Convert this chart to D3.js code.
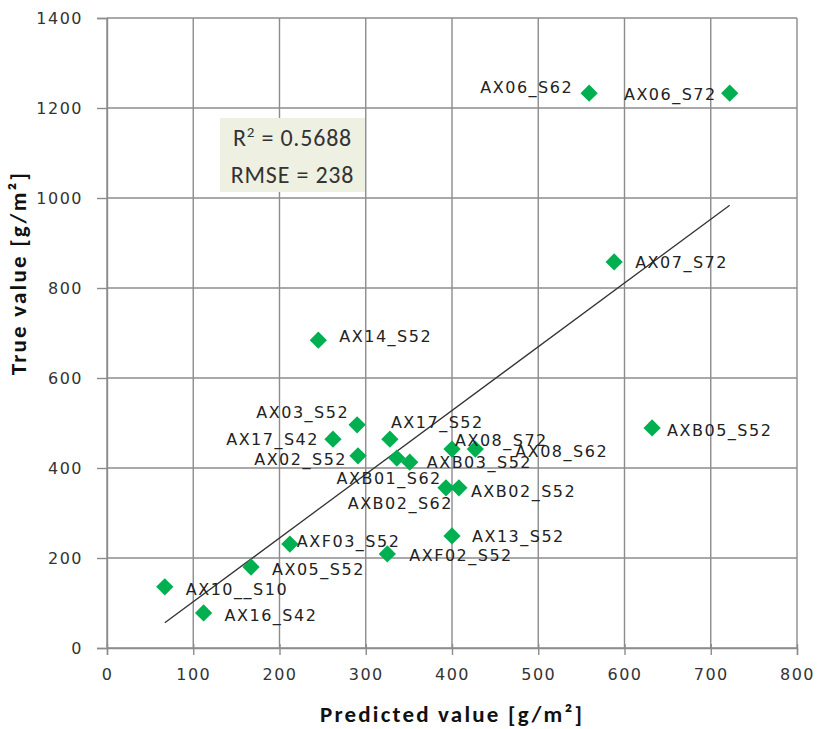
<!DOCTYPE html>
<html>
<head>
<meta charset="utf-8">
<script src="https://cdn.jsdelivr.net/npm/d3@7"></script>
<style>
  body { margin: 0; background: #fff; }
  svg { display: block; }
</style>
</head>
<body>
<div id="chart"></div>
<script>
// data
var names = ["AX06_S62", "AX06_S72", "AX07_S72", "AX14_S52", "AXB05_S52", "AX03_S52", "AX17_S42",
  "AX17_S52", "AX02_S52", "AXB01_S62", "AXB03_S52", "AX08_S72", "AX08_S62", "AXB02_S62",
  "AXB02_S52", "AX13_S52", "AXF03_S52", "AXF02_S52", "AX05_S52", "AX10__S10", "AX16_S42"];
var predicted = [559, 722, 588, 245, 632, 290, 262, 328, 291, 336, 351, 400, 427, 393, 408, 400, 212, 325, 167, 67, 112];
var trueValue = [1233, 1233, 858, 684, 489, 496, 464, 464, 427, 422, 413, 442, 442, 356, 356, 249, 231, 209, 180, 136, 78];
var trendX = [67, 722];
var trendY = [56, 984];
var xTicks = [0, 100, 200, 300, 400, 500, 600, 700, 800];
var yTicks = [0, 200, 400, 600, 800, 1000, 1200, 1400];

// label placement (dx, dy, anchor) relative to each marker
var labelPlace = {
  "AX06_S62": [-16, -6, "end"], "AX06_S72": [-13, 1, "end"], "AX07_S72": [21, 1, "start"],
  "AX14_S52": [21, -4, "start"], "AXB05_S52": [15, 3, "start"], "AX03_S52": [-8, -12, "end"],
  "AX17_S42": [-14, 0, "end"], "AX17_S52": [1, -17, "start"], "AX02_S52": [-11, 4, "end"],
  "AXB01_S62": [45, 20, "end"], "AXB03_S52": [17, 0, "start"], "AX08_S72": [3, -9, "start"],
  "AX08_S62": [40, 2, "start"], "AXB02_S62": [7, 16, "end"], "AXB02_S52": [12, 4, "start"],
  "AX13_S52": [20, 1, "start"], "AXF03_S52": [7, -3, "start"], "AXF02_S52": [22, 2, "start"],
  "AX05_S52": [21, 2, "start"], "AX10__S10": [21, 3, "start"], "AX16_S42": [21, 3, "start"]
};

var W = 817, H = 729;
var margin = {top: 18, right: 20, bottom: 81, left: 107},
  width = W - margin.left - margin.right,
  height = H - margin.top - margin.bottom;

var svg = d3.select("#chart").append("svg").attr("width", W).attr("height", H);
var g = svg.append("g").attr("transform", "translate(" + margin.left + "," + margin.top + ")");

var x = d3.scaleLinear().domain([0, 800]).range([0, width]);
var y = d3.scaleLinear().domain([0, 1400]).range([height, 0]);

var gridColor = "#8c8c8c";
var tickFont = "'DejaVu Sans', Verdana, sans-serif";

// gridlines
g.append("g").selectAll("line").data(xTicks).enter().append("line")
  .attr("x1", d => x(d)).attr("x2", d => x(d)).attr("y1", 0).attr("y2", height)
  .attr("stroke", gridColor).attr("stroke-width", 1.4);
g.append("g").selectAll("line").data(yTicks).enter().append("line")
  .attr("x1", 0).attr("x2", width).attr("y1", d => y(d)).attr("y2", d => y(d))
  .attr("stroke", gridColor).attr("stroke-width", 1.4);

// axes
var xAxis = g.append("g").attr("transform", "translate(0," + height + ")")
  .call(d3.axisBottom(x).tickValues(xTicks).tickFormat(d3.format("d")).tickSize(7).tickPadding(14));
var yAxis = g.append("g")
  .call(d3.axisLeft(y).tickValues(yTicks).tickFormat(d3.format("d")).tickSize(10).tickPadding(14));
[xAxis, yAxis].forEach(function (a) {
  a.select(".domain").attr("stroke", gridColor).attr("stroke-width", 1.4);
  a.selectAll(".tick line").attr("stroke", gridColor).attr("stroke-width", 1.4);
  a.selectAll(".tick text").attr("font-family", tickFont).attr("font-size", 16)
    .attr("letter-spacing", 1.5).attr("fill", "#333");
});
xAxis.selectAll(".tick line").attr("y1", -4);

// trend line
var trend = trendX.map((v, i) => [v, trendY[i]]);
g.append("path").datum(trend)
  .attr("fill", "none").attr("stroke", "#333").attr("stroke-width", 1.3)
  .attr("d", d3.line().x(d => x(d[0])).y(d => y(d[1])));

// points
var pts = names.map((n, i) => ({name: n, px: predicted[i], tv: trueValue[i]}));
g.append("g").selectAll("path").data(pts).enter().append("path")
  .attr("d", d3.symbol().type(d3.symbolDiamond2).size(190))
  .attr("transform", d => "translate(" + x(d.px) + "," + y(d.tv) + ")")
  .attr("fill", "#00b050");

// point labels
g.append("g").selectAll("text").data(pts).enter().append("text")
  .attr("x", d => x(d.px) + labelPlace[d.name][0])
  .attr("y", d => y(d.tv) + labelPlace[d.name][1])
  .attr("text-anchor", d => labelPlace[d.name][2])
  .attr("dominant-baseline", "central")
  .attr("font-family", tickFont).attr("font-size", 16).attr("letter-spacing", 1.5)
  .attr("fill", "#222")
  .text(d => d.name);

// stats box
var box = svg.append("g").attr("transform", "translate(220,118)");
box.append("rect").attr("width", 145).attr("height", 74).attr("fill", "#eef0e1");
var statFont = "Carlito, Lato, 'Open Sans', sans-serif";
var t1 = box.append("text").attr("x", 72.5).attr("y", 28).attr("text-anchor", "middle")
  .attr("font-family", statFont).attr("font-size", 24).attr("letter-spacing", 0.8).attr("fill", "#333");
t1.append("tspan").text("R");
t1.append("tspan").attr("font-size", 15).attr("dy", -9).text("2");
t1.append("tspan").attr("dy", 9).text(" = 0.5688");
box.append("text").attr("x", 72.5).attr("y", 65).attr("text-anchor", "middle")
  .attr("font-family", statFont).attr("font-size", 24).attr("letter-spacing", 0.8).attr("fill", "#333")
  .text("RMSE = 238");

// axis titles
var titleFont = "Carlito, Lato, 'Open Sans', sans-serif";
svg.append("text").attr("x", margin.left + width / 2).attr("y", 722)
  .attr("text-anchor", "middle").attr("font-family", titleFont).attr("font-weight", "bold")
  .attr("font-size", 23).attr("letter-spacing", 2.2).attr("fill", "#111")
  .text("Predicted value [g/m²]");
svg.append("text").attr("transform", "translate(26,273) rotate(-90)")
  .attr("text-anchor", "middle").attr("font-family", titleFont).attr("font-weight", "bold")
  .attr("font-size", 23).attr("letter-spacing", 2.2).attr("fill", "#111")
  .text("True value [g/m²]");
</script>
</body>
</html>
